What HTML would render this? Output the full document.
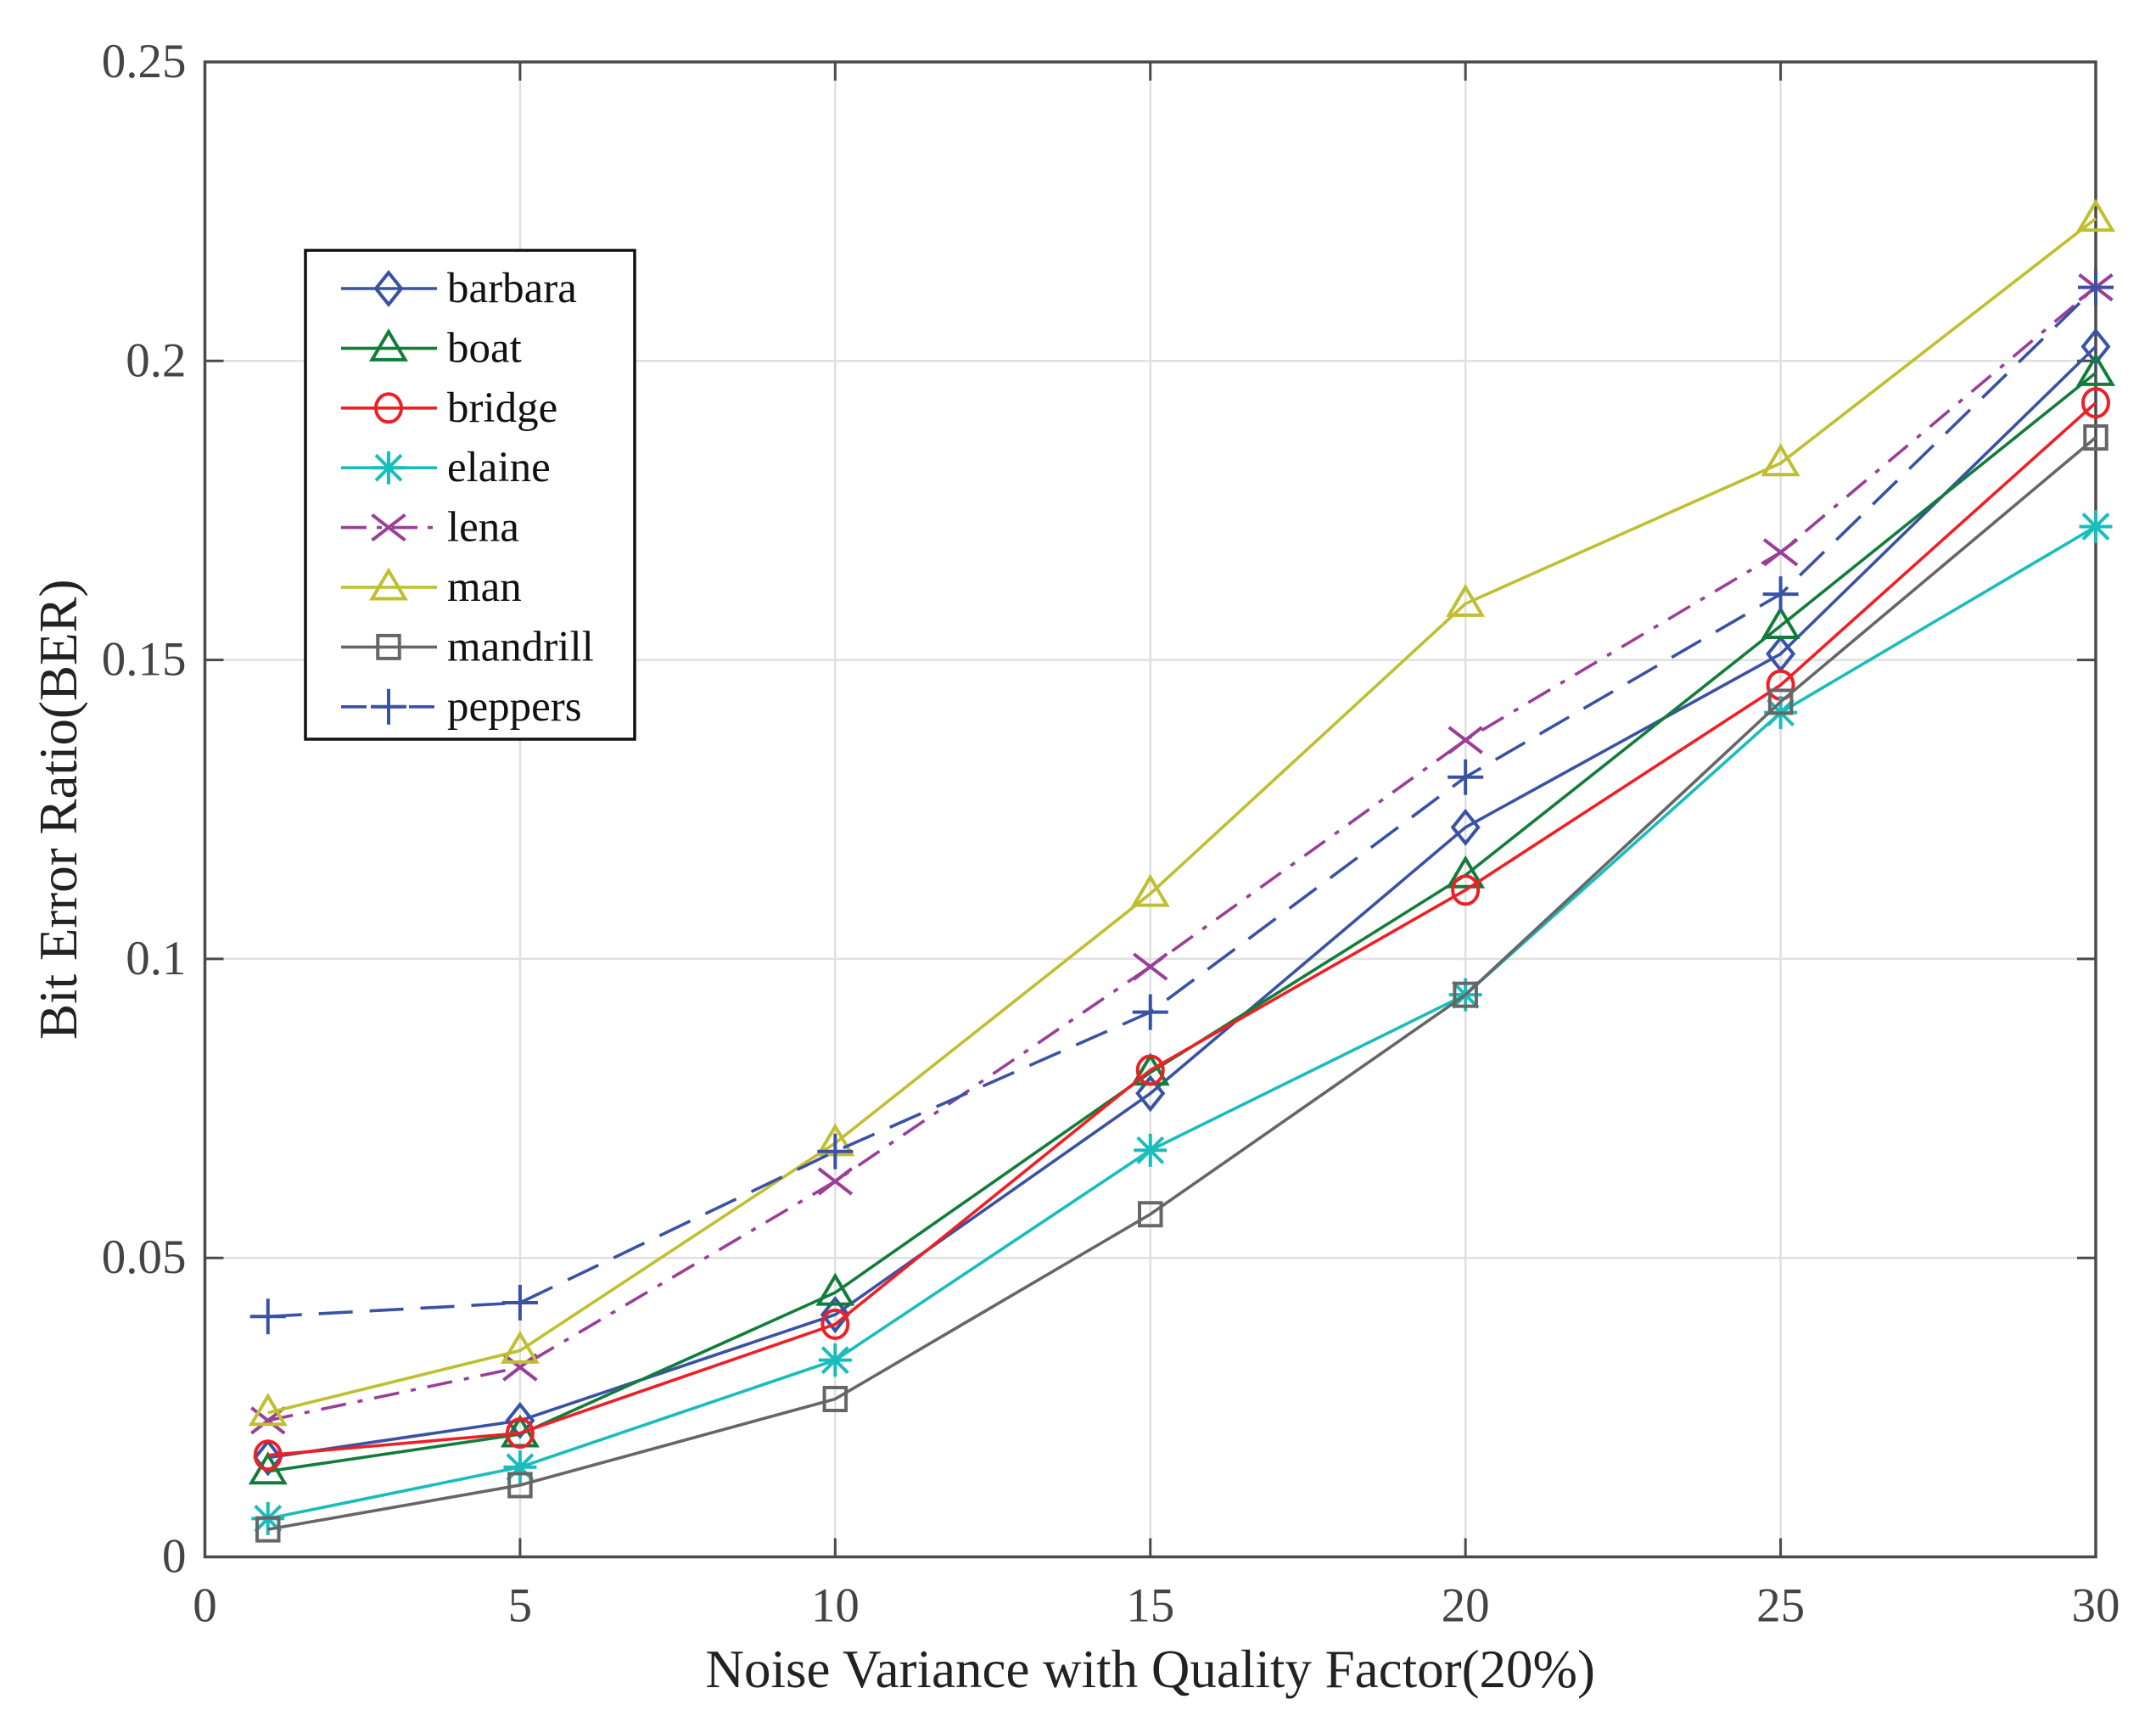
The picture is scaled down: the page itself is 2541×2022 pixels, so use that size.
<!DOCTYPE html>
<html><head><meta charset="utf-8"><style>
html,body{margin:0;padding:0;background:#fff;}
svg{display:block;font-family:"Liberation Serif",serif;}
</style></head><body>
<svg id="chart" width="2541" height="2022" viewBox="0 0 2541 2022"></svg>
<script>
const xValues = [1, 5, 10, 15, 20, 25, 30];
const xTicks = [0, 5, 10, 15, 20, 25, 30];
const yTicks = [0, 0.05, 0.1, 0.15, 0.2, 0.25];
const yTickLabels = ["0", "0.05", "0.1", "0.15", "0.2", "0.25"];
const seriesNames = ["barbara","boat","bridge","elaine","lena","man","mandrill","peppers"];
const barbara = [0.0166, 0.0228, 0.0405, 0.0775, 0.122, 0.151, 0.2024];
const boat = [0.0143, 0.0205, 0.0442, 0.081, 0.114, 0.1557, 0.198];
const bridge = [0.017, 0.0207, 0.0389, 0.0814, 0.1115, 0.1458, 0.193];
const elaine = [0.0064, 0.015, 0.0329, 0.068, 0.094, 0.1412, 0.1723];
const lena = [0.0228, 0.0317, 0.0628, 0.0987, 0.1366, 0.168, 0.2123];
const man = [0.0241, 0.0345, 0.0692, 0.1109, 0.1594, 0.1829, 0.2238];
const mandrill = [0.0046, 0.012, 0.0264, 0.0573, 0.094, 0.143, 0.1872];
const peppers = [0.0402, 0.0425, 0.0678, 0.0911, 0.1304, 0.161, 0.2123];

const seriesValues = [barbara, boat, bridge, elaine, lena, man, mandrill, peppers];
const styles = [
 {c:"#3a52a4", m:"diamond", d:""},
 {c:"#127d3b", m:"triangle", d:""},
 {c:"#ee1f25", m:"circle", d:""},
 {c:"#1abcbc", m:"asterisk", d:""},
 {c:"#9a3f98", m:"x", d:"30 14 6 14"},
 {c:"#bfbf30", m:"triangle", d:""},
 {c:"#666666", m:"square", d:""},
 {c:"#3a52a4", m:"plus", d:"40 20"}
];
const L=241.5,R=2470,T=73,B=1834.5;
const xs=v=>L+(v-0)/30*(R-L);
const ys=v=>B-(v/0.25)*(B-T);
const svg=document.getElementById('chart');
const NS="http://www.w3.org/2000/svg";
function mk(tag,attrs,parent){const e=document.createElementNS(NS,tag);for(const k in attrs)e.setAttribute(k,attrs[k]);(parent||svg).appendChild(e);return e;}

const grid=mk('g',{});


xTicks.forEach(t=>{mk('line',{x1:xs(t),x2:xs(t),y1:T,y2:B,stroke:"#e0e0e0","stroke-width":2.5},grid);});
yTicks.forEach(t=>{mk('line',{x1:L,x2:R,y1:ys(t),y2:ys(t),stroke:"#e0e0e0","stroke-width":2.5},grid);});

const axes=mk('rect',{x:L,y:T,width:R-L,height:B-T,fill:"none",stroke:"#4a4a4a","stroke-width":3.5});



xTicks.forEach(t=>{
 mk('line',{x1:xs(t),x2:xs(t),y1:B,y2:B-22,stroke:"#4a4a4a","stroke-width":3});
 mk('line',{x1:xs(t),x2:xs(t),y1:T,y2:T+22,stroke:"#4a4a4a","stroke-width":3});
 const tx=mk('text',{x:xs(t),y:B+76,"text-anchor":"middle","font-size":57,fill:"#444"});
 tx.textContent=t;
 
 
});
yTicks.forEach((t,i)=>{
 mk('line',{x1:L,x2:L+22,y1:ys(t),y2:ys(t),stroke:"#4a4a4a","stroke-width":3});
 mk('line',{x1:R,x2:R-22,y1:ys(t),y2:ys(t),stroke:"#4a4a4a","stroke-width":3});
 const tx=mk('text',{x:L-22,y:ys(t)+18,"text-anchor":"end","font-size":57,fill:"#444"});
 tx.textContent=yTickLabels[i];
 
 
});
const xt=mk('text',{x:(L+R)/2,y:1988,"text-anchor":"middle","font-size":63,fill:"#222"});
xt.textContent="Noise Variance with Quality Factor(20%)";


const yt=mk('text',{x:0,y:0,"text-anchor":"middle","font-size":63,fill:"#222",transform:`translate(90,${(T+B)/2}) rotate(-90)`});
yt.textContent="Bit Error Ratio(BER)";



function marker(type,x,y,c,g){
 const s=15, sw=4;
 const a={fill:"none",stroke:c,"stroke-width":sw};
 if(type==="diamond") mk('polygon',Object.assign({points:`${x},${y-s*1.25} ${x+s},${y} ${x},${y+s*1.25} ${x-s},${y}`},a),g);
 else if(type==="triangle") mk('polygon',Object.assign({points:`${x},${y-s*1.3} ${x+s*1.3},${y+s*0.9} ${x-s*1.3},${y+s*0.9}`},a),g);
 else if(type==="circle") mk('ellipse',Object.assign({cx:x,cy:y,rx:s,ry:s*1.1},a),g);
 else if(type==="square") mk('rect',Object.assign({x:x-s*0.85,y:y-s*0.9,width:s*1.7,height:s*1.8},a),g);
 else if(type==="plus"){mk('path',Object.assign({d:`M${x-s*1.4},${y}H${x+s*1.4}M${x},${y-s*1.4}V${y+s*1.4}`},a),g);}
 else if(type==="x"){mk('path',Object.assign({d:`M${x-s*1.3},${y-s}L${x+s*1.3},${y+s}M${x-s*1.3},${y+s}L${x+s*1.3},${y-s}`},a),g);}
 else if(type==="asterisk"){mk('path',Object.assign({d:`M${x-s*1.3},${y}H${x+s*1.3}M${x},${y-s*1.3}V${y+s*1.3}M${x-s},${y-s}L${x+s},${y+s}M${x-s},${y+s}L${x+s},${y-s}`},a),g);}
}

seriesValues.forEach((vals,si)=>{
 const st=styles[si];
 const g=mk('g',{});
 
 
 const pts=vals.map((v,i)=>`${xs(xValues[i])},${ys(v)}`).join(' ');
 const pl=mk('polyline',{points:pts,fill:"none",stroke:st.c,"stroke-width":3.6,"stroke-dasharray":st.d},g);
 
 
 vals.forEach((v,i)=>marker(st.m,xs(xValues[i]),ys(v),st.c,g));
});

const lg=mk('g',{});


mk('rect',{x:360,y:295,width:388,height:576,fill:"#fff",stroke:"#111","stroke-width":3.5},lg);
seriesNames.forEach((n,i)=>{
 const st=styles[i];
 const y=340+i*70.4;
 const e=mk('g',{},lg);
 
 
 mk('line',{x1:402,x2:515,y1:y,y2:y,stroke:st.c,"stroke-width":3.6,"stroke-dasharray":st.d?(i===4?"30 12 6 12":"30 10"):""},e);
 marker(st.m,458,y,st.c,e);
 const t=mk('text',{x:527,y:y+16,"font-size":51,fill:"#111"},e);
 t.textContent=n;
});
</script>
</body></html>
